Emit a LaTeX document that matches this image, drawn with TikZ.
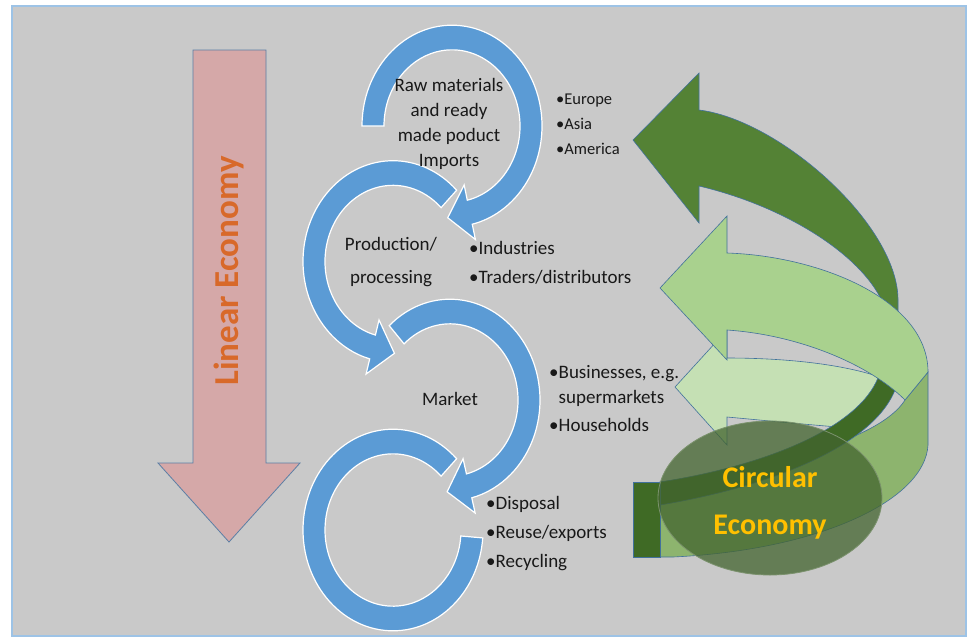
\documentclass[tikz,border=0pt]{standalone}
\usepackage{fontspec}
\setmainfont{Carlito}
\usetikzlibrary{calc}
\definecolor{panelgray}{HTML}{C9C9C9}
\definecolor{panelline}{HTML}{9DC3E6}
\definecolor{ringblue}{HTML}{5B9BD5}
\definecolor{linpink}{HTML}{D5A8A8}
\definecolor{linedge}{HTML}{5B7FA5}
\definecolor{lintext}{HTML}{D8692A}
\definecolor{darkleaf}{HTML}{548235}
\definecolor{backleaf}{HTML}{3F6A25}
\definecolor{midleaf}{HTML}{8DB46E}
\definecolor{lightleaf}{HTML}{A9D18E}
\definecolor{paleleaf}{HTML}{C5E0B4}
\definecolor{leafedge}{HTML}{41719C}
\definecolor{ovalgreen}{HTML}{43642F}
\definecolor{circtext}{HTML}{FFC000}
% ring arrow: (centre)(start angle:end angle:head turn), slightly taller than wide
\def\ringarrow(#1)(#2:#3:#4){\begin{scope}[shift={(#1)}, yscale=1.12]
	\filldraw[ring] (#2:90) arc[start angle=#2, end angle=#3, radius=90] -- (#3:104) -- (#3+#4:82) -- (#3:54) -- (#3:68) arc[start angle=#3, end angle=#2, radius=68] -- cycle;
	\end{scope}}

\begin{document}
\begin{tikzpicture}[x=1pt, y=-1pt,
		ring/.style={fill=ringblue, draw=white, line width=1.2pt},
		leaf/.style={draw=leafedge, line width=0.6pt},
		lbl/.style={font=\fontsize{19}{25}\selectfont, text=black!90, align=center, inner sep=0pt},
		bul/.style={font=\fontsize{19}{29}\selectfont, text=black!90, align=left, anchor=west, inner sep=0pt}]
		%%%%% START %%%%%
		
		\useasboundingbox (0,0) rectangle (968,638);
		\fill[white] (0,0) rectangle (968,638);
		\draw[fill=panelgray, draw=panelline, line width=1.5pt] (12,6) rectangle (966,636);
		
		% linear economy arrow
		\draw[fill=linpink, draw=linedge, line width=0.8pt] (193,50) -- (266,50) -- (266,463) -- (300,463) -- (229,542) -- (158,463) -- (193,463) -- cycle;
		\node[rotate=90, font=\bfseries\fontsize{35}{35}\selectfont, text=lintext] (lin) at (229,271) {Linear Economy};
		
		% blue ring arrows
		\ringarrow(452,126)(180:437:16)
		\ringarrow(393,261.5)(-45:-255:-16)
		\ringarrow(450,400)(227.5:436:16)
		\begin{scope}[shift={(393,530)}, yscale=1.12]
			\filldraw[ring] (-45:90) arc[start angle=-45, end angle=-355.5, radius=90] -- (-355.5:68) arc[start angle=-355.5, end angle=-45, radius=68] -- cycle;
		\end{scope}
		
		\node[lbl] (raw) at (449,124) {Raw materials\\and ready\\made poduct\\Imports};
		\node[lbl, font=\fontsize{19}{33}\selectfont] (prod) at (391,262) {Production/\\processing};
		\node[lbl] (market) at (450,399) {Market};
		
		\node[bul, font=\fontsize{16.5}{25}\selectfont] (regions) at (556,124) {•Europe\\•Asia\\•America};
		\node[bul] (traders) at (469,262.5) {•Industries\\•Traders/distributors};
		\node[bul, font=\fontsize{19}{25}\selectfont] (buyers) at (549,399) {•Businesses, e.g.\\\hphantom{•}supermarkets\\[3pt]•Households};
		\node[bul] (ends) at (486,534) {•Disposal\\•Reuse/exports\\•Recycling};
		
		% circular economy arrows, back parts first
		\draw[leaf, fill=midleaf] (905,400) -- (928,372) -- (928,445) .. controls (925,500) and (820,550) .. (673,557) -- (660,557) -- (660,482) .. controls (770,468) and (880,440) .. (905,400) -- cycle;
		\draw[leaf, fill=paleleaf] (675,387) -- (727,330) -- (727,358) .. controls (790,358) and (850,365) .. (888,380) -- (850,428) .. controls (800,424) and (760,420) .. (727,417) -- (727,445) -- cycle;
		\draw[leaf, fill=backleaf] (660,482) .. controls (770,465) and (865,425) .. (880,372) -- (898,380) .. controls (885,440) and (780,485) .. (660,505) -- cycle;
		\draw[leaf, fill=backleaf] (633,482) rectangle (660,557);
		
		\draw[leaf, fill=darkleaf] (633,140) -- (699,73) -- (699,110) .. controls (780,120) and (898,225) .. (898,300) -- (898,380) -- (880,372) -- (880,297) .. controls (855,250) and (780,205) .. (699,186) -- (699,223) -- cycle;
		\draw[leaf, fill=lightleaf] (660,288) -- (727,216) -- (727,253) .. controls (820,256) and (928,300) .. (928,372) -- (905,400) .. controls (870,365) and (800,335) .. (727,330) -- (727,360) -- cycle;
		
		\draw[fill=ovalgreen, fill opacity=0.75, draw=ovalgreen!70!white, line width=0.8pt] (770,498) ellipse [x radius=112, y radius=77];
		\node[font=\bfseries\fontsize{30}{47}\selectfont, text=circtext, align=center] (circ) at (770,503) {Circular\\Economy};
		
		%%%%% END %%%%%
	\end{tikzpicture}
\end{document}
